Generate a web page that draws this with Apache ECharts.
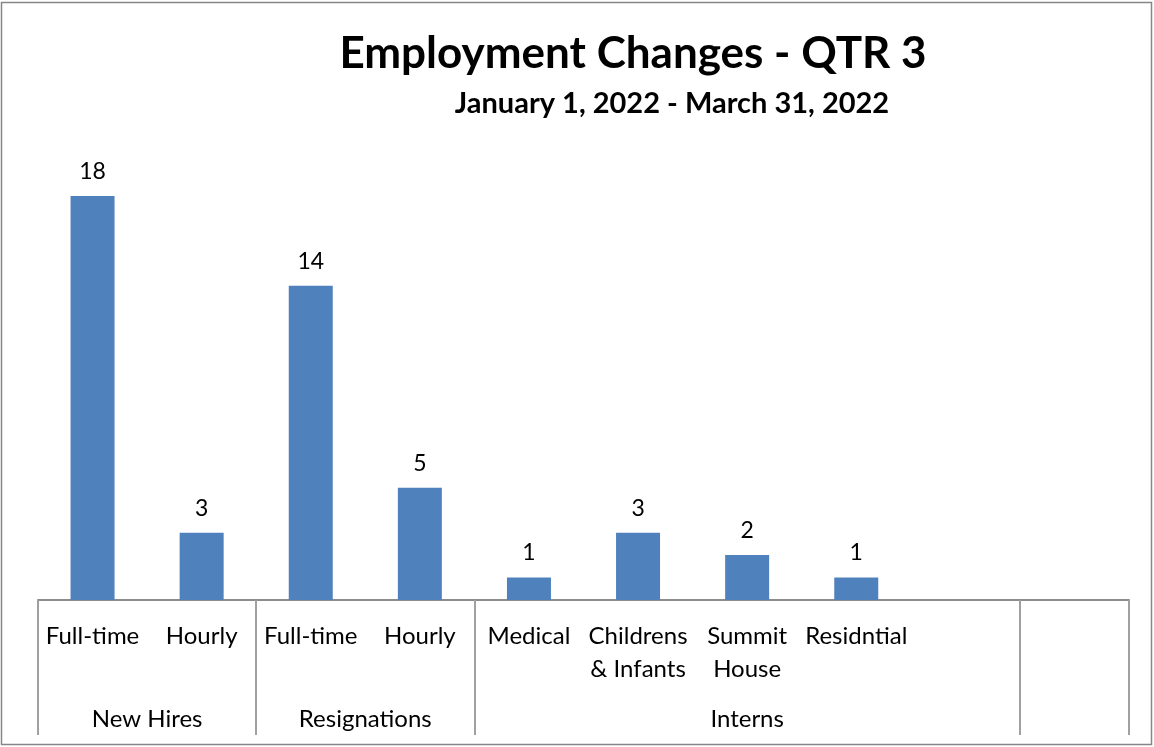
<!DOCTYPE html>
<html><head><meta charset="utf-8">
<script src="https://cdn.jsdelivr.net/npm/echarts@6/dist/echarts.min.js"></script>
<style>html,body{margin:0;padding:0;background:#fff}#c{width:1154px;height:747px}</style>
</head><body><div id="c"></div>
<script>
const categories = ['Full-time','Hourly','Full-time','Hourly','Medical','Childrens\n& Infants','Summit\nHouse','Residntial','',''];
const values = [18,3,14,5,1,3,2,1,null,null];
const groupNames = ['New Hires','Resignations','Interns',''];
const groupBounds = [0,2,4,9,10];
const titleText = 'Employment Changes - QTR 3';
const subtitleText = 'January 1, 2022 - March 31, 2022';

const FONT = 'Lato, "Open Sans", sans-serif';
const groupCenters = groupNames.map((_, i) => (groupBounds[i] + groupBounds[i+1]) / 2);

const chart = echarts.init(document.getElementById('c'));
chart.setOption({
  backgroundColor: '#fff',
  animation: false,
  title: [
    {text: titleText, left: 628, top: 27, textAlign: 'center',
     textStyle: {fontFamily: FONT, fontSize: 44, fontWeight: 'bold', color: '#000'}},
    {text: subtitleText, left: 667, top: 84, textAlign: 'center',
     textStyle: {fontFamily: FONT, fontSize: 29, fontWeight: 'bold', color: '#000'}}
  ],
  graphic: [{type: 'rect', shape: {x: 1.5, y: 2.5, width: 1150, height: 742},
    style: {fill: 'none', stroke: '#868686', lineWidth: 1.5}, silent: true, z: -1}],
  grid: {left: 38, right: 25, top: 196, bottom: 147},
  xAxis: [
    {type: 'category', data: categories, position: 'bottom',
     axisLine: {show: true, lineStyle: {color: '#8c8c8c', width: 2}},
     axisTick: {show: false},
     axisLabel: {interval: 0, margin: 20, fontFamily: FONT, fontSize: 24, lineHeight: 33, color: '#000'},
     splitLine: {show: false}},
    {type: 'value', min: 0, max: 10, position: 'bottom', gridIndex: 0,
     axisLine: {show: false},
     axisTick: {show: true, length: 135, customValues: groupBounds, lineStyle: {color: '#a0a0a0', width: 2}},
     axisLabel: {show: true, customValues: groupCenters, margin: 107, fontFamily: FONT, fontSize: 24, color: '#000',
       formatter: v => { const i = groupCenters.indexOf(v); return i >= 0 ? groupNames[i] : ''; }},
     splitLine: {show: false}}
  ],
  yAxis: {type: 'value', min: 0, max: 18, show: false, splitLine: {show: false}},
  series: [{
    type: 'bar', data: values, xAxisIndex: 0, barWidth: 44,
    itemStyle: {color: '#4F81BD'},
    label: {show: true, position: 'top', distance: 13, fontFamily: FONT, fontSize: 23, color: '#000'}
  }]
});
</script></body></html>
